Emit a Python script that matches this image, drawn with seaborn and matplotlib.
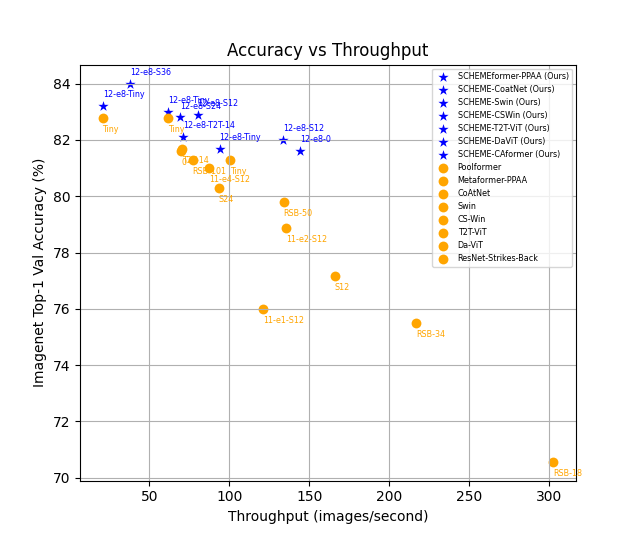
import matplotlib
matplotlib.use("Agg")
import matplotlib.pyplot as plt
import seaborn as sns

# SCHEME models (ours) - stars
ours_names = [
    "SCHEMEformer-PPAA (Ours)", "SCHEME-CoatNet (Ours)", "SCHEME-Swin (Ours)",
    "SCHEME-CSWin (Ours)", "SCHEME-T2T-ViT (Ours)", "SCHEME-DaViT (Ours)",
    "SCHEME-CAformer (Ours)",
]
ours_throughput = [
    [38.1, 69.4, 133.4], [144.0], [61.9], [21.2], [71.3], [93.9], [80.1],
]
ours_accuracy = [
    [84.0, 82.8, 82.0], [81.62], [83.0], [83.22], [82.12], [81.69], [82.9],
]
ours_labels = [
    ["12-e8-S36", "12-e8-S24", "12-e8-S12"], ["12-e8-0"], ["12-e8-Tiny"],
    ["12-e8-Tiny"], ["12-e8-T2T-14"], ["12-e8-Tiny"], ["12-e8-S12"],
]

# baselines - circles
base_names = [
    "Poolformer", "Metaformer-PPAA", "CoAtNet", "Swin", "CS-Win",
    "T2T-ViT", "Da-ViT", "ResNet-Strikes-Back",
]
base_throughput = [
    [166.0, 93.5], [87.2, 135.3, 121.0], [69.8], [61.5], [20.7],
    [70.3], [100.3], [77.1, 134.0, 216.8, 302.7],
]
base_accuracy = [
    [77.17, 80.3], [81.0, 78.87, 76.0], [81.6], [82.78], [82.78],
    [81.68], [81.3], [81.3, 79.8, 75.5, 70.57],
]
base_labels = [
    ["S12", "S24"], ["11-e4-S12", "11-e2-S12", "11-e1-S12"], ["0"], ["Tiny"],
    ["Tiny"], ["T2T-14"], ["Tiny"], ["RSB-101", "RSB-50", "RSB-34", "RSB-18"],
]

plt.figure(figsize=(6.4, 5.4), dpi=100)
ax = plt.gca()

for name, xs, ys, labs in zip(ours_names, ours_throughput, ours_accuracy, ours_labels):
    sns.scatterplot(x=xs, y=ys, marker="*", color="blue", s=60, linewidth=0,
                    label=name, ax=ax)
    for x, y, t in zip(xs, ys, labs):
        ax.annotate(t, (x, y), xytext=(0, 5), textcoords="offset points",
                    ha="left", va="bottom", fontsize="xx-small", color="blue")

for name, xs, ys, labs in zip(base_names, base_throughput, base_accuracy, base_labels):
    sns.scatterplot(x=xs, y=ys, marker="o", color="orange", s=50, linewidth=0,
                    label=name, ax=ax)
    for x, y, t in zip(xs, ys, labs):
        ax.annotate(t, (x, y), xytext=(0, -5), textcoords="offset points",
                    ha="left", va="top", fontsize="xx-small", color="orange")

plt.title("Accuracy vs Throughput")
plt.xlabel("Throughput (images/second)")
plt.ylabel("Imagenet Top-1 Val Accuracy (%)")
plt.grid(True)
plt.legend(loc="upper right", fontsize="xx-small")
plt.savefig("out.png")
plt.close()
